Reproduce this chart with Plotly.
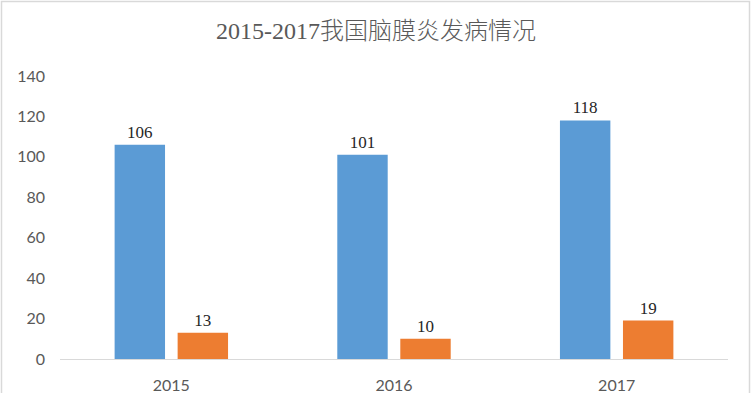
import plotly.graph_objects as go

years = ["2015", "2016", "2017"]
series_a = [106, 101, 118]
series_b = [13, 10, 19]
title_text = "2015-2017我国脑膜炎发病情况"
y_ticks = [0, 20, 40, 60, 80, 100, 120, 140]

W, H = 752, 393
ML, MR, MT, MB = 60, 24, 76, 34
pw, ph = W - ML - MR, H - MT - MB

def px_x(p):
    return (p - ML) / pw

def px_y(p):
    return (H - MB - p) / ph

fig = go.Figure()
fig.add_trace(go.Bar(
    x=years, y=series_a, marker_color="#5B9BD5", marker_line_width=0,
    text=[str(v) for v in series_a], textposition="outside", cliponaxis=False,
    textfont=dict(family="Liberation Serif", size=17, color="#262626"),
))
fig.add_trace(go.Bar(
    x=years, y=series_b, marker_color="#ED7D31", marker_line_width=0,
    text=[str(v) for v in series_b], textposition="outside", cliponaxis=False,
    textfont=dict(family="Liberation Serif", size=17, color="#262626"),
))

fig.update_layout(
    width=W, height=H,
    margin=dict(l=ML, r=MR, t=MT, b=MB, autoexpand=False),
    paper_bgcolor="white", plot_bgcolor="white",
    showlegend=False,
    bargap=0.434, bargroupgap=0.2,
    title=dict(text=title_text, x=0.5, xanchor="center", y=1 - 31 / H, yanchor="middle",
               font=dict(family="Liberation Serif, Noto Sans CJK SC", size=24,
                         color="#595959", weight=300)),
    xaxis=dict(showline=True, linecolor="#D9D9D9", linewidth=1, showgrid=False,
               ticks="", ticklabelstandoff=12, automargin=False,
               tickfont=dict(family="Lato", size=16, color="#595959")),
    yaxis=dict(range=[0, 140], tickvals=y_ticks, showgrid=False, zeroline=False,
               showline=False, ticks="", ticklabelstandoff=14, automargin=False,
               tickfont=dict(family="Lato", size=16, color="#595959")),
    shapes=[dict(type="rect", xref="paper", yref="paper",
                 x0=px_x(1.5), x1=px_x(749.5), y0=px_y(420), y1=px_y(1.5),
                 line=dict(color="#D9D9D9", width=1.5), layer="below")],
)

fig.write_html(
    "out.html",
    config={"displayModeBar": False},
    post_script="document.body.style.margin='0';document.body.style.padding='0';document.body.style.overflow='hidden';",
)
